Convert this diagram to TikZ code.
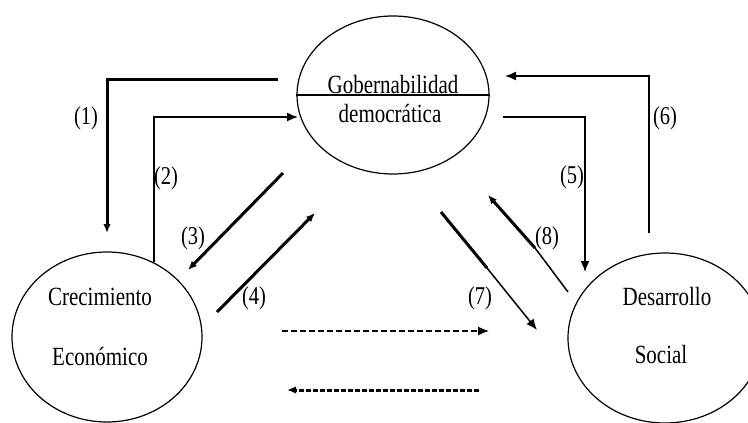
\documentclass[tikz,border=0pt]{standalone}
\usepackage{fontspec}
\setmainfont{Liberation Serif}
\usetikzlibrary{shapes.geometric,arrows.meta}
\newcommand\tallword[1]{\scalebox{1}[1.25]{#1}}
\begin{document}
\begin{tikzpicture}[x=1pt,y=-1pt,
  circ/.style={draw,ellipse,line width=1.2pt,inner sep=0pt},
  txt/.style={font=\fontsize{21}{25}\selectfont,inner sep=0pt},
  lbl/.style={font=\fontsize{20.5}{24}\selectfont,inner sep=0pt},
  thin/.style={line width=1.5pt},
  thk/.style={line width=3pt},
  tip/.style={-{Latex[length=11pt,width=9pt]}},
  tipthk/.style={-{Latex[length=9pt,width=7.5pt]}}]
\useasboundingbox (0,0) rectangle (748,423);
% nodes
\node[circ,minimum width=192pt,minimum height=158pt] (gob) at (393,95) {};
\node[circ,minimum width=190pt,minimum height=170pt] (ce) at (107,337) {};
\node[circ,minimum width=194pt,minimum height=170pt] (ds) at (665,338) {};
\draw[line width=1.5pt] (gob.west) -- (gob.east);
\node[txt,anchor=base] (g1) at (393,93) {\tallword{Gobernabilidad}};
\node[txt] (g2) at (390,114) {\tallword{democrática}};
\node[txt] (c1) at (100,297) {\tallword{Crecimiento}};
\node[txt] (c2) at (100,356) {\tallword{Económico}};
\node[txt] (d1) at (667,297) {\tallword{Desarrollo}};
\node[txt] (d2) at (661,355) {\tallword{Social}};
% coordinates
\coordinate (a1s) at (278,79);
\coordinate (a1e) at (107,233);
\coordinate (a2s) at (154,262);
\coordinate (a2e) at (298,117);
\coordinate (a3s) at (283,173);
\coordinate (a3e) at (188,270);
\coordinate (a4s) at (217,312);
\coordinate (a4e) at (315,213);
\coordinate (a5s) at (503,117);
\coordinate (a5e) at (585,272);
\coordinate (a6s) at (649,233);
\coordinate (a6e) at (505,76);
\coordinate (a7s) at (441,212);
\coordinate (a7m) at (487,268);
\coordinate (a7e) at (537,330);
\coordinate (a8s) at (568,292);
\coordinate (a8m) at (535,248);
\coordinate (a8e) at (488,195);
\coordinate (d1s) at (282,331);
\coordinate (d1e) at (489,331);
\coordinate (d2s) at (479,390);
\coordinate (d2e) at (287,390);
% connectors
\draw[thk,tipthk] (a1s) -| (a1e);
\draw[thin,tip] (a2s) |- (a2e);
\draw[thk,tipthk] (a3s) -- (a3e);
\draw[thk,tipthk] (a4s) -- (a4e);
\draw[thin,tip] (a5s) -| (a5e);
\draw[thin,tip] (a6s) |- (a6e);
\draw[thk] (a7s) -- (a7m);
\draw[thin,tip] (a7m) -- (a7e);
\draw[thin] (a8s) -- (a8m);
\draw[thk,tipthk] (a8m) -- (a8e);
\draw[thin,dash pattern=on 6pt off 3pt,tip] (d1s) -- (d1e);
\draw[thk,dash pattern=on 5pt off 2pt,tipthk] (d2s) -- (d2e);
% labels
\node[lbl] (l1) at (86,118) {\tallword{(1)}};
\node[lbl] (l2) at (166,178) {\tallword{(2)}};
\node[lbl] (l3) at (193,238) {\tallword{(3)}};
\node[lbl] (l4) at (254,298) {\tallword{(4)}};
\node[lbl] (l5) at (572,177) {\tallword{(5)}};
\node[lbl] (l6) at (665,118) {\tallword{(6)}};
\node[lbl] (l7) at (480,298) {\tallword{(7)}};
\node[lbl] (l8) at (547,238) {\tallword{(8)}};
\end{tikzpicture}
\end{document}
